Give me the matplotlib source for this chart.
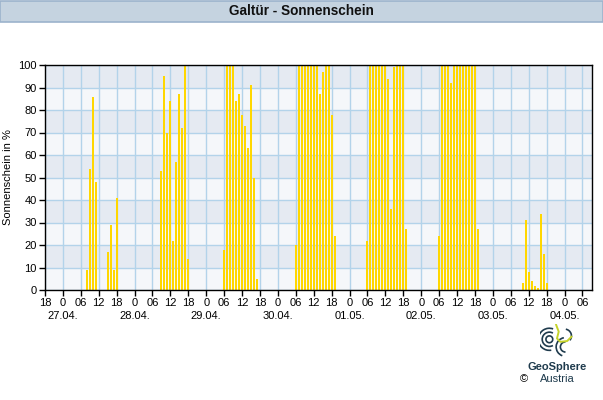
import numpy as np
import matplotlib.pyplot as plt
from matplotlib.patches import Rectangle, Arc
from matplotlib.transforms import blended_transform_factory

plt.rcParams['font.family'] = ['Liberation Sans', 'DejaVu Sans']

# hourly sunshine (%) per day, hours 00..23
days = ["27.04.", "28.04.", "29.04.", "30.04.", "01.05.", "02.05.", "03.05.", "04.05."]
sun_2704 = [0, 0, 0, 0, 0, 0, 0, 0, 9, 54, 86, 48, 0, 0, 0, 17, 29, 9, 41, 0, 0, 0, 0, 0]
sun_2804 = [0, 0, 0, 0, 0, 0, 0, 0, 0, 53, 95, 70, 84, 22, 57, 87, 72, 100, 14, 0, 0, 0, 0, 0]
sun_2904 = [0, 0, 0, 0, 0, 0, 18, 100, 100, 100, 84, 87, 78, 73, 63, 91, 50, 5, 0, 0, 0, 0, 0, 0]
sun_3004 = [0, 0, 0, 0, 0, 0, 20, 100, 100, 100, 100, 100, 100, 100, 87, 97, 100, 100, 78, 24, 0, 0, 0, 0]
sun_0105 = [0, 0, 0, 0, 0, 0, 22, 100, 100, 100, 100, 100, 100, 94, 36, 99, 100, 100, 100, 27, 0, 0, 0, 0]
sun_0205 = [0, 0, 0, 0, 0, 0, 24, 100, 100, 100, 92, 100, 100, 100, 100, 100, 100, 100, 100, 27, 0, 0, 0, 0]
sun_0305 = [0, 0, 0, 0, 0, 0, 0, 0, 0, 0, 3, 31, 8, 4, 2, 1, 34, 16, 3, 0, 0, 0, 0, 0]
sun_0405 = [0, 0, 0, 0, 0, 0, 0, 0, 0, 0, 0, 0, 0, 0, 0, 0, 0, 0, 0, 0, 0, 0, 0, 0]
all_days = [sun_2704, sun_2804, sun_2904, sun_3004, sun_0105, sun_0205, sun_0305, sun_0405]

start_hour = 18  # axis starts 26.04. 18:00
x_end = 183.3

# x in hours since axis start
xs, ys = [], []
for d, vals in enumerate(all_days):
    for h, v in enumerate(vals):
        if v > 0:
            xs.append(24 - start_hour + 24 * d + h)
            ys.append(v)

fig = plt.figure(figsize=(6.03, 4.00), dpi=100)
ax = fig.add_axes([45 / 603, 110 / 400, 547.3 / 603, 225 / 400])

# title box
fig.patches.append(Rectangle((0.0008, 1 - 21.5 / 400), 0.9984, 21 / 400, transform=fig.transFigure,
                             facecolor="#c5d3e0", edgecolor="#9cb3cc", linewidth=1.2, zorder=0))
fig.text(0.5, 1 - 11 / 400, "Galtür - Sonnenschein", ha="center", va="center",
         fontsize=9.8, fontweight="bold", color="#111111")

# background bands
for lo in range(0, 100, 10):
    col = "#f5f7fa" if (lo // 10) % 2 == 0 else "#e5eaf2"
    ax.axhspan(lo, lo + 10, color=col, zorder=0, linewidth=0)

ax.bar(xs, ys, width=0.68, color="#ffd700", zorder=3, linewidth=0)

ax.set_xlim(0, x_end)
ax.set_ylim(0, 100)
ax.set_yticks(np.arange(0, 101, 10))
ticks = np.arange(0, 181, 6)
ax.set_xticks(ticks)
labels = []
for t in ticks:
    hh = (start_hour + t) % 24
    labels.append("0" if hh == 0 else f"{hh:02d}")
ax.set_xticklabels(labels)
ax.grid(True, color="#b3d3ea", linewidth=1.0, zorder=1)
ax.set_axisbelow(True)
ax.tick_params(axis="both", direction="out", length=4, width=1, labelsize=8, color="black", pad=2)
for s in ax.spines.values():
    s.set_linewidth(1.0)
    s.set_color("black")
    s.set_zorder(5)

ax.set_ylabel("Sonnenschein in %", fontsize=8, labelpad=4)

# date labels under midnight ticks
trans = blended_transform_factory(ax.transData, ax.transAxes)
for d, name in enumerate(days):
    ax.text(24 - start_hour + 24 * d, -0.115, name, transform=trans, ha="center", va="center", fontsize=8)

# logo
lax = fig.add_axes([540 / 603, 42 / 400, 34 / 603, 34 / 400])
lax.set_xlim(-1, 1)
lax.set_ylim(-1, 1)
lax.set_aspect("equal")
lax.axis("off")
teal = "#1f3b4d"
for cx, cy, r, a1, a2 in [(-0.45, 0.1, 0.2, 0, 360), (-0.45, 0.1, 0.42, 60, 300), (-0.45, 0.1, 0.65, 70, 280),
                          (0.5, -0.35, 0.3, 90, 270), (0.5, -0.35, 0.55, 100, 250), (0.45, 0.3, 0.4, -40, 80)]:
    lax.add_patch(Arc((cx, cy), 2 * r, 2 * r, theta1=a1, theta2=a2, color=teal, lw=1.2))
lax.plot([-0.05, 0.1, 0.0, 0.2, 0.6, 0.85], [0.95, 0.55, 0.15, -0.05, 0.0, 0.25], color="#c6d32a", lw=1.4)
fig.text(557 / 603, 1 - 367 / 400, "GeoSphere", ha="center", va="center", fontsize=8,
         fontweight="bold", color=teal)
fig.text(557 / 603, 1 - 379 / 400, "Austria", ha="center", va="center", fontsize=8, color=teal)
fig.text(524 / 603, 1 - 379 / 400, "©", ha="center", va="center", fontsize=8, color="black")

fig.savefig("out.png", dpi=100)
